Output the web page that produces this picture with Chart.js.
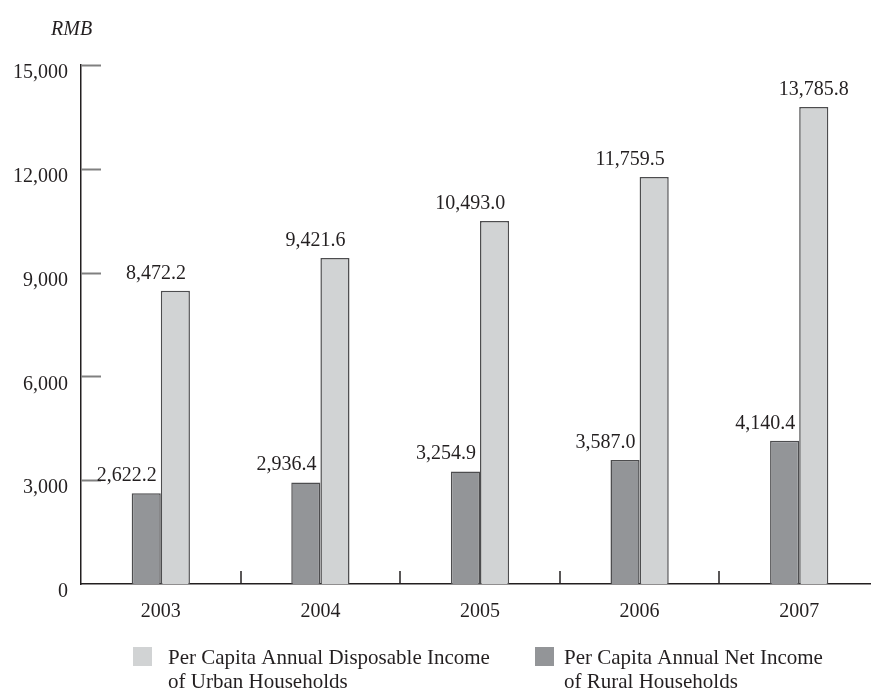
<!DOCTYPE html>
<html>
<head>
<meta charset="utf-8">
<script src="https://cdn.jsdelivr.net/npm/chart.js@4/dist/chart.umd.min.js"></script>
<style>
  html, body { margin: 0; padding: 0; background: #fff; overflow: hidden; }
  canvas { display: block; }
</style>
</head>
<body>
<canvas id="incomeChart" width="880" height="693"></canvas>
<script>
const years = ['2003', '2004', '2005', '2006', '2007'];
const ruralIncome = [2622.2, 2936.4, 3254.9, 3587.0, 4140.4];
const urbanIncome = [8472.2, 9421.6, 10493.0, 11759.5, 13785.8];
const yTicks = [0, 3000, 6000, 9000, 12000, 15000];
const ruralLabel = ['Per Capita Annual Net Income', 'of Rural Households'];
const urbanLabel = ['Per Capita Annual Disposable Income', 'of Urban Households'];

const serif = '"Liberation Serif", "Times New Roman", serif';
const dark = '#231f20';

const fmt = v => v.toLocaleString('en-US', { minimumFractionDigits: 1, maximumFractionDigits: 1 });

// extra marks: short y ticks, category separators, value labels, unit and legend
const decorations = {
    id: 'decorations',
    afterDatasetsDraw(chart) {
        const ctx = chart.ctx;
        const area = chart.chartArea;
        const x = chart.scales.x;
        const y = chart.scales.y;
        ctx.save();

        // short ticks pointing into the plot
        ctx.strokeStyle = '#808080';
        ctx.lineWidth = 2;
        yTicks.forEach(v => {
            if (v === 0) return;
            const py = Math.round(y.getPixelForValue(v)) + 0.5;
            ctx.beginPath();
            ctx.moveTo(area.left, py);
            ctx.lineTo(area.left + 20, py);
            ctx.stroke();
        });

        // separators between year groups
        ctx.strokeStyle = dark;
        ctx.lineWidth = 1.5;
        for (let i = 1; i < years.length; i++) {
            const px = Math.round((x.getPixelForValue(i - 1) + x.getPixelForValue(i)) / 2);
            ctx.beginPath();
            ctx.moveTo(px, area.bottom);
            ctx.lineTo(px, area.bottom - 13);
            ctx.stroke();
        }

        // value labels
        ctx.fillStyle = dark;
        ctx.font = '20px ' + serif;
        ctx.textBaseline = 'alphabetic';
        chart.data.datasets.forEach((ds, d) => {
            chart.getDatasetMeta(d).data.forEach((bar, i) => {
                const right = bar.x + bar.width / 2 - 4;
                // the tallest bar has room for a centred label
                if (ds.data === urbanIncome && i === years.length - 1) {
                    ctx.textAlign = 'center';
                    ctx.fillText(fmt(ds.data[i]), bar.x, bar.y - 12);
                } else {
                    ctx.textAlign = 'right';
                    ctx.fillText(fmt(ds.data[i]), right, bar.y - 12);
                }
            });
        });

        // unit
        ctx.font = 'italic 20px ' + serif;
        ctx.textAlign = 'left';
        ctx.fillText('RMB', 51, 35);

        // legend, urban first
        const items = [
            { ds: chart.data.datasets[1], box: 133, text: 168 },
            { ds: chart.data.datasets[0], box: 535, text: 564 }
        ];
        ctx.font = '21px ' + serif;
        items.forEach(item => {
            ctx.fillStyle = item.ds.backgroundColor;
            ctx.fillRect(item.box, 647, 19, 19);
            ctx.fillStyle = dark;
            item.ds.label.forEach((line, k) => {
                ctx.fillText(line, item.text, 664 + k * 24);
            });
        });

        ctx.restore();
    }
};

new Chart(document.getElementById('incomeChart'), {
    type: 'bar',
    data: {
        labels: years,
        datasets: [
            {
                label: ruralLabel,
                data: ruralIncome,
                backgroundColor: '#939598',
                borderColor: '#4d4d4f',
                borderWidth: 1.5
            },
            {
                label: urbanLabel,
                data: urbanIncome,
                backgroundColor: '#d1d3d4',
                borderColor: '#4d4d4f',
                borderWidth: 1.5
            }
        ]
    },
    options: {
        responsive: false,
        animation: false,
        layout: { padding: { top: 65, right: 1, bottom: 69, left: 0 } },
        datasets: { bar: { categoryPercentage: 0.365, barPercentage: 1 } },
        plugins: {
            legend: { display: false },
            tooltip: { enabled: false }
        },
        scales: {
            x: {
                grid: { display: false, drawTicks: false },
                border: { display: true, color: dark, width: 1.5 },
                ticks: { color: dark, padding: 16, font: { family: serif, size: 20 } },
                afterFit: s => { s.height = 40; }
            },
            y: {
                min: 0,
                max: 15000,
                afterBuildTicks: s => { s.ticks = yTicks.map(v => ({ value: v })); },
                grid: { display: false, drawTicks: false },
                border: { display: true, color: dark, width: 1.5 },
                ticks: {
                    color: dark,
                    padding: 13,
                    labelOffset: 8,
                    font: { family: serif, size: 20 },
                    callback: v => v.toLocaleString('en-US')
                },
                afterFit: s => { s.width = 81; }
            }
        }
    },
    plugins: [decorations]
});
</script>
</body>
</html>
